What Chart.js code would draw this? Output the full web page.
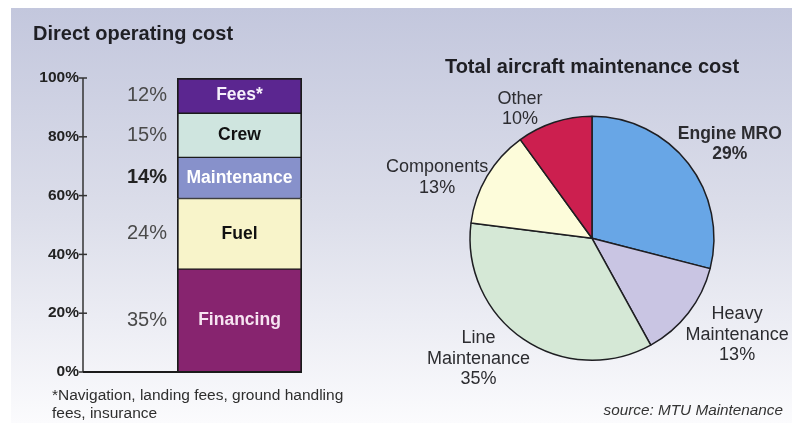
<!doctype html>
<html>
<head>
<title>Direct operating cost</title>
<script src="https://cdn.jsdelivr.net/npm/chart.js@4.4.0/dist/chart.umd.min.js"></script>
<style>
  html, body { margin: 0; padding: 0; background: #fff; }
  body { width: 792px; height: 423px; position: relative; overflow: hidden; }
  #panel {
    position: absolute; left: 11px; top: 8px; right: 0; bottom: 0;
    background: linear-gradient(#c3c7dd, #dcdeea 50%, #fbfbfd);
  }
  #costCanvas { position: absolute; left: 0; top: 0; }
  #mroCanvas { position: absolute; left: 360px; top: 0; }
</style>
</head>
<body>
<div id="panel"></div>
<canvas id="costCanvas" width="360" height="423"></canvas>
<canvas id="mroCanvas" width="432" height="423"></canvas>
<script>
// direct operating cost, stacked bottom to top
var costItems = ['Financing', 'Fuel', 'Maintenance', 'Crew', 'Fees*'];
var costShares = [35, 24, 14, 15, 12];
var costTicks = [0, 20, 40, 60, 80, 100];

// maintenance cost split, clockwise from 12 o'clock
var mroItems = [['Engine MRO'], ['Heavy', 'Maintenance'], ['Line', 'Maintenance'], ['Components'], ['Other']];
var mroShares = [29, 13, 35, 13, 10];

var FONT = '"Liberation Sans", Arial, Helvetica, sans-serif';
Chart.defaults.font.family = FONT;

var costColors = ['#87246f', '#f8f4ca', '#8791cb', '#cfe5df', '#5b2690'];
var costTextColors = ['#f6e4f1', '#111', '#fff', '#111', '#f6f0fb'];
var costBold = 'Maintenance';

var mroColors = ['#68a6e6', '#c9c5e3', '#d5e8d6', '#fdfcda', '#cc1f4f'];
var mroBold = [true, false, false, false, false];
// label anchors in units of the pie radius, from the pie centre
var mroLabelAt = [[1.13, -0.77], [1.19, 0.79], [-0.93, 0.99], [-1.27, -0.50], [-0.59, -1.06]];

function line(ctx, x1, y1, x2, y2) {
  ctx.beginPath();
  ctx.moveTo(x1, y1);
  ctx.lineTo(x2, y2);
  ctx.stroke();
}

var costDecor = {
  id: 'costDecor',
  afterDatasetsDraw: function (chart) {
    var ctx = chart.ctx, y = chart.scales.y, area = chart.chartArea;
    var axisX = y.right;
    var y0 = y.getPixelForValue(0);

    ctx.save();
    ctx.strokeStyle = '#333';
    ctx.lineWidth = 1.5;
    line(ctx, axisX, y.getPixelForValue(100), axisX, y0);
    y.ticks.forEach(function (t) {
      var py = y.getPixelForValue(t.value);
      line(ctx, axisX - 4, py, axisX + 4, py);
    });
    ctx.strokeStyle = '#1b1b1b';
    ctx.lineWidth = 2;
    line(ctx, axisX, y0, area.right, y0);

    ctx.textAlign = 'center';
    ctx.textBaseline = 'middle';
    chart.data.datasets.forEach(function (ds, i) {
      var bar = chart.getDatasetMeta(i).data[0];
      var mid = (bar.y + bar.base) / 2;
      ctx.font = 'bold 17.5px ' + FONT;
      ctx.fillStyle = costTextColors[i];
      ctx.fillText(ds.label, bar.x, mid);
      var strong = ds.label === costBold;
      ctx.font = (strong ? 'bold ' : '') + '20px ' + FONT;
      ctx.fillStyle = strong ? '#222' : '#4a4a4a';
      ctx.fillText(ds.data[0] + '%', area.left - 30, mid);
    });

    ctx.textAlign = 'left';
    ctx.font = '15.5px ' + FONT;
    ctx.fillStyle = '#2e2e2e';
    ctx.fillText('*Navigation, landing fees, ground handling', 52, 396);
    ctx.fillText('fees, insurance', 52, 414);
    ctx.restore();
  }
};

new Chart(document.getElementById('costCanvas'), {
  type: 'bar',
  data: {
    labels: ['Direct operating cost'],
    datasets: costItems.map(function (name, i) {
      return {
        label: name,
        data: [costShares[i]],
        backgroundColor: costColors[i],
        borderColor: '#1b1b1b',
        borderWidth: { top: i === costItems.length - 1 ? 2 : 1, bottom: 1, left: 2, right: 2 },
        borderSkipped: false,
        barPercentage: 1,
        categoryPercentage: 1
      };
    })
  },
  options: {
    responsive: false,
    animation: false,
    layout: { padding: { left: 33, right: 58, top: 0, bottom: 51 } },
    plugins: {
      legend: { display: false },
      tooltip: { enabled: false },
      title: {
        display: true,
        text: 'Direct operating cost',
        align: 'start',
        color: '#1f1f24',
        font: { size: 20, weight: 'bold' },
        padding: { top: 22, bottom: 32 }
      }
    },
    scales: {
      x: { stacked: true, display: false },
      y: {
        stacked: true,
        min: 0,
        max: 100,
        weight: 1,
        afterBuildTicks: function (s) {
          s.ticks = costTicks.map(function (v) { return { value: v }; });
        },
        afterFit: function (s) { s.width = 50; },
        grid: { display: false, drawTicks: false },
        border: { display: false },
        ticks: {
          padding: 4,
          color: '#222',
          font: { size: 15.5, weight: 'bold' },
          callback: function (v) { return v + '%'; }
        }
      },
      // empty band between the axis and the bar, holds the share column
      gap: {
        type: 'linear',
        position: 'left',
        weight: 0,
        afterFit: function (s) { s.width = 94; },
        grid: { display: false, drawTicks: false },
        border: { display: false },
        ticks: { display: false }
      }
    }
  },
  plugins: [costDecor]
});

var mroLabels = {
  id: 'mroLabels',
  afterDatasetsDraw: function (chart) {
    var ctx = chart.ctx;
    var arc = chart.getDatasetMeta(0).data[0];
    var r = arc.outerRadius, lh = 20.5;
    ctx.save();
    ctx.textAlign = 'center';
    ctx.textBaseline = 'middle';
    ctx.fillStyle = '#2c2c30';
    mroItems.forEach(function (lines, i) {
      var rows = lines.concat(mroShares[i] + '%');
      var x = arc.x + mroLabelAt[i][0] * r;
      var top = arc.y + mroLabelAt[i][1] * r - (rows.length - 1) * lh / 2;
      ctx.font = (mroBold[i] ? 'bold 17.5px ' : '18px ') + FONT;
      rows.forEach(function (t, j) { ctx.fillText(t, x, top + j * lh); });
    });

    ctx.textAlign = 'right';
    ctx.font = 'italic 15.3px ' + FONT;
    ctx.fillStyle = '#333';
    ctx.fillText('source: MTU Maintenance', chart.width - 9, 411);
    ctx.restore();
  }
};

new Chart(document.getElementById('mroCanvas'), {
  type: 'pie',
  data: {
    labels: mroItems.map(function (l) { return l.join(' '); }),
    datasets: [{
      data: mroShares,
      backgroundColor: mroColors,
      borderColor: '#1e1e22',
      borderWidth: 1.5
    }]
  },
  options: {
    responsive: false,
    animation: false,
    layout: { padding: { left: 32, right: 0, top: 0, bottom: 62 } },
    plugins: {
      legend: { display: false },
      tooltip: { enabled: false },
      title: {
        display: true,
        text: 'Total aircraft maintenance cost',
        color: '#1f1f24',
        font: { size: 20, weight: 'bold' },
        padding: { top: 55, bottom: 36.6 }
      }
    }
  },
  plugins: [mroLabels]
});
</script>
</body>
</html>
